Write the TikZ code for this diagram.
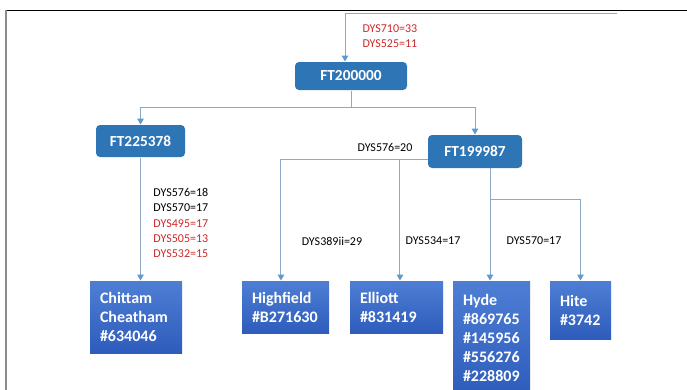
\documentclass[tikz,border=0pt]{standalone}
\usepackage{fontspec}
\setmainfont{Carlito}
\usepackage{xcolor}
\usetikzlibrary{arrows.meta}
\definecolor{ftblue}{RGB}{46,117,182}
\definecolor{leaftop}{RGB}{78,126,212}
\definecolor{leafbot}{RGB}{46,92,188}
\definecolor{wire}{RGB}{140,170,196}
\definecolor{tipblue}{RGB}{91,155,213}
\definecolor{dysred}{RGB}{204,40,40}

\begin{document}
\begin{tikzpicture}[x=0.75pt, y=-0.75pt, line width=0.75pt,
  ftbox/.style={fill=ftblue, rounded corners=3pt, text=white, font=\fontsize{11.5}{13}\selectfont\bfseries, inner sep=0pt},
  leaf/.style={top color=leaftop, bottom color=leafbot, text=white, font=\fontsize{12}{14.3}\selectfont\bfseries, align=left, inner xsep=7.5pt, inner ysep=0pt},
  conn/.style={wire, -{Triangle[length=4.5pt, width=5pt, color=tipblue]}},
  dys/.style={font=\fontsize{9}{11.4}\selectfont, inner sep=0pt}]
  \useasboundingbox (0,0) rectangle (687,390);
  \draw[black] (6,10) -- (687,10);
  \draw[black!45, line width=1.5pt] (6,10) -- (6,390);
  \node[ftbox, minimum width=84pt, minimum height=21pt] (ft200) at (351,76) {FT200000};
  \node[ftbox, minimum width=66.75pt, minimum height=24pt] (ft225) at (140.5,141) {FT225378};
  \node[ftbox, minimum width=70.5pt, minimum height=24.75pt] (ft199) at (475,151.5) {FT199987};
  \node[leaf, text width=54pt, minimum height=54pt] (chit) at (136,317) {Chittam\\Cheatham\\\#634046};
  \node[leaf, text width=50.25pt, minimum height=39pt] (hf) at (285.5,307) {Highfield\\\#B271630};
  \node[leaf, text width=54.75pt, minimum height=39pt] (el) at (396.5,307) {Elliott\\\#831419};
  \node[leaf, text width=42.75pt, minimum height=85.5pt] (hy) at (491.5,338) {Hyde\\\#869765\\\#145956\\\#556276\\\#228809};
  \node[leaf, text width=30.75pt, minimum height=43.5pt] (hi) at (580.5,310) {Hite\\\#3742};
  \node[dys, text=dysred, align=left, anchor=west] (snp0) at (362,36.5) {DYS710=33\\DYS525=11};
  \node[dys, align=left, anchor=west] (snp1) at (153,223) {DYS576=18\\DYS570=17\\\textcolor{dysred}{DYS495=17}\\\textcolor{dysred}{DYS505=13}\\\textcolor{dysred}{DYS532=15}};
  \node[dys] (snp2) at (385,147) {DYS576=20};
  \node[dys] (snp3) at (332,241) {DYS389ii=29};
  \node[dys] (snp4) at (433,241) {DYS534=17};
  \node[dys] (snp5) at (534,241) {DYS570=17};
  \coordinate (feed) at (617,13);
  \coordinate (drop) at (345,13);
  \draw[conn] (feed) -- (drop) -- (drop |- ft200.north);
  \coordinate (fork0) at (351,107);
  \draw[conn] (ft200.south) -- (fork0) -| (ft225.north);
  \draw[conn] (fork0) -| (ft199.north);
  \draw[conn] (ft225.south) -- (ft225.south |- chit.north);
  \coordinate (fork1) at (428,159);
  \draw[conn] (fork1) -| ([xshift=-3.4pt]hf.north);
  \draw[conn] (fork1) -| ([xshift=2.6pt]el.north);
  \coordinate (fork2) at (490,168);
  \draw[conn] (fork2) -- (fork2 |- hy.north);
  \draw[conn] (fork2) -- ++(0,31) -| (hi.north);
\end{tikzpicture}
\end{document}
